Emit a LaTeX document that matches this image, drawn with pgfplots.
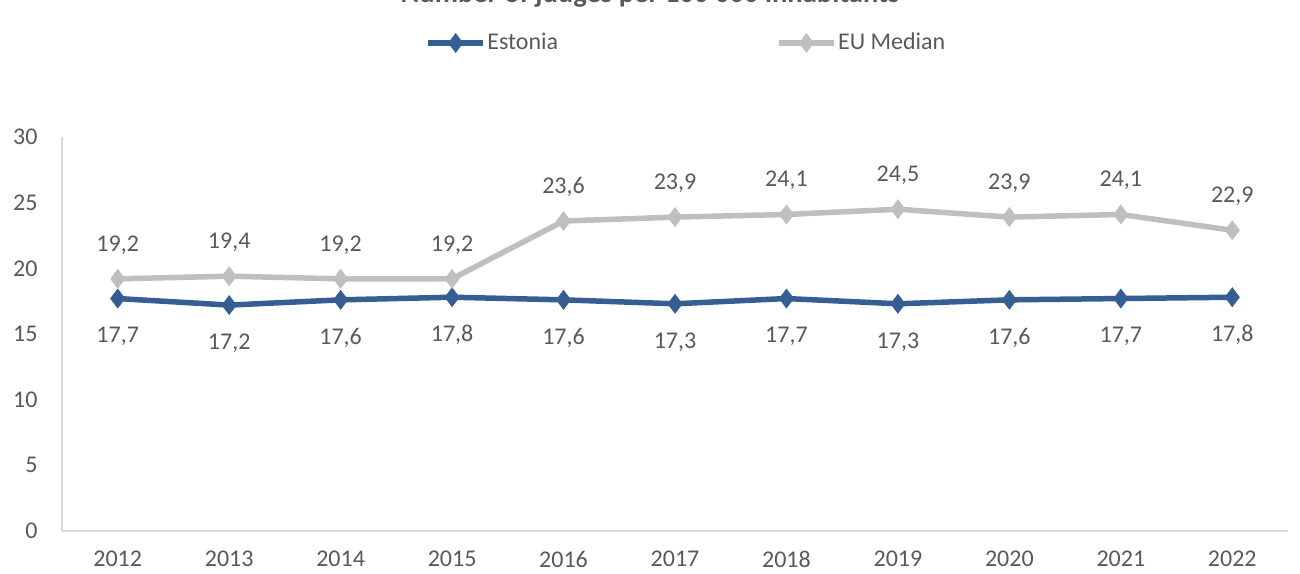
\documentclass[border=0pt]{standalone}
\usepackage{fontspec}
\setmainfont{Carlito}
\usepackage{pgfplots}
\pgfplotsset{compat=1.18}
\definecolor{est}{HTML}{355E92}
\definecolor{eu}{HTML}{BFBFBF}
\definecolor{txt}{HTML}{595959}
\definecolor{axl}{HTML}{D9D9D9}
\begin{document}
\begin{tikzpicture}[x=1pt,y=1pt]
\path[use as bounding box] (-31,-21) rectangle (619,265.5);
\begin{axis}[
  at={(0pt,0pt)}, anchor=south west,
  scale only axis, width=613pt, height=197pt,
  xmin=-0.5, xmax=10.5, ymin=0, ymax=30,
  xtick={0,...,10},
  xticklabels={2012,2013,2014,2015,2016,2017,2018,2019,2020,2021,2022},
  ytick={0,5,...,30},
  axis lines*=left,
  axis line style={draw=axl, line width=1pt, -},
  major tick length=0pt,
  /pgf/number format/assume math mode=true,
  tick label style={font=\fontsize{12}{14}\selectfont, text=txt},
  xticklabel style={anchor=center, inner sep=0pt, yshift=-14pt},
  yticklabel style={anchor=east, xshift=-8.7pt},
  clip=false,
  legend columns=2,
  legend style={at={(0.2961,1.2386)}, anchor=west, draw=none, fill=none, inner sep=0pt,
    font=\fontsize{12}{14}\selectfont, text=txt,
    /tikz/every odd column/.append style={column sep=-1.3pt},
    /tikz/every even column/.append style={column sep=107pt}},
  legend cell align=left,
  legend image code/.code={\draw[#1, mark repeat=2, mark phase=2] plot coordinates {(0pt,0pt) (13.75pt,0pt) (27.5pt,0pt)};},
  nodes near coords={\pgfmathprintnumber[fixed,fixed zerofill,precision=1,use comma]{\pgfplotspointmeta}},
  every node near coord/.append style={font=\fontsize{12}{14}\selectfont, text=txt, anchor=center},
]
\addplot[est, line width=2.75pt, mark=diamond*, mark size=4.6pt, mark options={solid, fill=est, draw=est, line width=0.5pt},
  every node near coord/.append style={yshift=-19pt}]
  coordinates {(0,17.7) (1,17.2) (2,17.6) (3,17.8) (4,17.6) (5,17.3) (6,17.7) (7,17.3) (8,17.6) (9,17.7) (10,17.8)};
\addlegendentry{Estonia}
\addplot[eu, line width=2.75pt, mark=diamond*, mark size=4.6pt, mark options={solid, fill=eu, draw=eu, line width=0.5pt},
  every node near coord/.append style={yshift=17pt}]
  coordinates {(0,19.2) (1,19.4) (2,19.2) (3,19.2) (4,23.6) (5,23.9) (6,24.1) (7,24.5) (8,23.9) (9,24.1) (10,22.9)};
\addlegendentry{EU Median}
\node[anchor=base, font=\bfseries\fontsize{14.3}{16}\selectfont, text=txt] at (axis description cs:0.4796,1.3426) {Number of judges per 100 000 inhabitants};
\end{axis}
\end{tikzpicture}
\end{document}
